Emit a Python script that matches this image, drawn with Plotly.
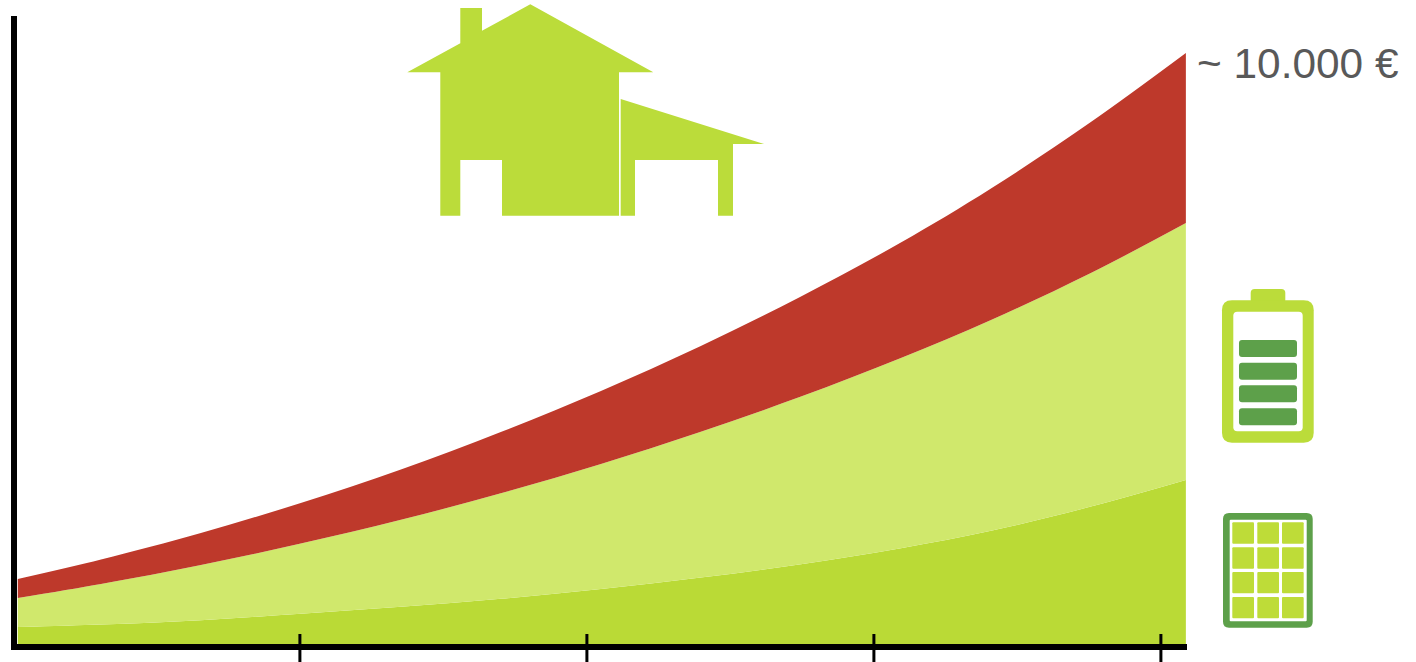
import plotly.graph_objects as go

# Data (stacked euros per year position)
years = [0.017, 0.307, 0.655, 1.003, 1.352, 1.700, 2.049, 2.397, 2.746, 3.094, 3.408, 3.756, 4.087]
solar = [288, 330, 403, 513, 630, 765, 930, 1125, 1350, 1620, 1915, 2325, 2775]
battery = [490, 685, 934, 1186, 1471, 1785, 2116, 2465, 2836, 3219, 3567, 3952, 4348]
grid = [322, 415, 541, 687, 852, 1037, 1235, 1452, 1694, 1954, 2225, 2555, 2877]
tick_years = [1, 2, 3, 4]
total_label = "~ 10.000 €"

W, H = 1416, 662
L, R, T, B = 17, 1187, 16, 644
C_SOLAR, C_BATT, C_GRID = "#BADA36", "#D0E86C", "#BE392B"
C_HOUSE, C_DARK, C_CELL = "#BBDC3A", "#5DA04A", "#BEDC38"


def px(x, y):
    return (x - L) / (R - L), (B - y) / (B - T)


def poly(points):
    cs = [px(*p) for p in points]
    return "M" + " L".join(f"{a:.5f},{b:.5f}" for a, b in cs) + " Z"


def rrect(x0, y0, x1, y1, r):
    def P(x, y):
        a, b = px(x, y)
        return f"{a:.5f},{b:.5f}"
    return (f"M{P(x0 + r, y0)} L{P(x1 - r, y0)} Q{P(x1, y0)} {P(x1, y0 + r)} "
            f"L{P(x1, y1 - r)} Q{P(x1, y1)} {P(x1 - r, y1)} L{P(x0 + r, y1)} "
            f"Q{P(x0, y1)} {P(x0, y1 - r)} L{P(x0, y0 + r)} Q{P(x0, y0)} {P(x0 + r, y0)} Z")


def shape(path, color):
    return dict(type="path", xref="paper", yref="paper", path=path,
                fillcolor=color, line=dict(width=0), layer="above")


shapes = [
    shape(poly([(407.3, 72.3), (460.3, 43.3), (460.3, 8), (482, 8), (482, 30.7), (530.3, 4.3),
                (653.3, 72.3), (619, 72.3), (619, 215.7), (502, 215.7), (502, 160), (460.3, 160),
                (460.3, 215.7), (440.3, 215.7), (440.3, 72.3)]), C_HOUSE),
    shape(poly([(620.7, 99), (764, 144), (733, 144), (733, 215.7), (718, 215.7), (718, 160),
                (635, 160), (635, 215.7), (620.7, 215.7)]), C_HOUSE),
    # battery
    shape(rrect(1250.7, 289, 1285.3, 304, 4), C_HOUSE),
    shape(rrect(1222, 300.3, 1313.7, 442.7, 10), C_HOUSE),
    shape(rrect(1233.3, 311.7, 1302.7, 431.3, 4), "#FFFFFF"),
]
for y0, y1 in [(340, 357), (362.7, 379.7), (385.3, 402.3), (408.3, 425.3)]:
    shapes.append(shape(rrect(1239, y0, 1297, y1, 3), C_DARK))
# solar panel
shapes.append(shape(rrect(1223, 513, 1312.7, 627.7, 6), C_DARK))
shapes.append(shape(rrect(1229.7, 519.7, 1306.7, 621.3, 1), "#FFFFFF"))
for y0, y1 in [(522.3, 543.7), (547.3, 568.7), (572, 593.3), (597, 618.3)]:
    for x0, x1 in [(1232.3, 1254), (1257.3, 1279), (1282, 1303.7)]:
        shapes.append(shape(rrect(x0, y0, x1, y1, 1), C_CELL))
# year ticks crossing the axis line
for t in tick_years:
    shapes.append(dict(type="line", xref="x", yref="paper", x0=t, x1=t,
                       y0=px(0, 662)[1], y1=px(0, 634)[1],
                       line=dict(color="black", width=3), layer="above"))

fig = go.Figure()
for name, vals, color in [("Solar", solar, C_SOLAR), ("Battery", battery, C_BATT), ("Grid", grid, C_GRID)]:
    fig.add_trace(go.Scatter(x=years, y=vals, name=name, mode="lines", stackgroup="one",
                             line=dict(width=0, shape="spline", smoothing=1.0),
                             fillcolor=color, hoverinfo="skip"))

fig.update_layout(
    width=W, height=H, autosize=False,
    margin=dict(l=L, r=W - R, t=T, b=H - B, pad=0),
    paper_bgcolor="white", plot_bgcolor="white", showlegend=False,
    shapes=shapes,
    font=dict(family="Liberation Sans, Arial, sans-serif"),
    annotations=[dict(text=total_label, xref="paper", yref="paper",
                      x=px(1194.5, 0)[0], y=px(0, 64)[1], xanchor="left", yanchor="middle",
                      showarrow=False, align="left",
                      font=dict(size=42.4, color="#595959", family="Liberation Sans, Arial, sans-serif"))],
    xaxis=dict(range=[(L - 12.9) / 287, (R - 12.9) / 287], showgrid=False, zeroline=False,
               showline=True, linewidth=5.5, linecolor="black",
               tickmode="array", tickvals=tick_years, ticktext=["" for _ in tick_years], ticks=""),
    yaxis=dict(range=[0, (B - T) * 10000 / 591], showgrid=False, zeroline=False,
               showline=True, linewidth=5.5, linecolor="black",
               ticks="", showticklabels=False),
)

fig.write_html("out.html", config=dict(displayModeBar=False, responsive=False),
               post_script="document.body.style.margin='0';")
